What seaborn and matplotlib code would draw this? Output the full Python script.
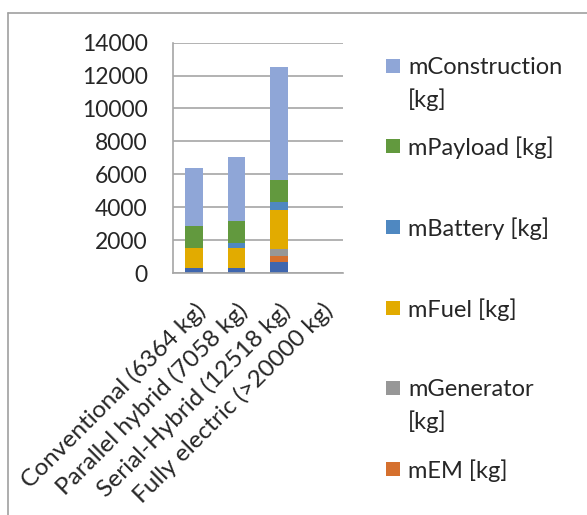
import textwrap
import numpy as np
import pandas as pd
import matplotlib.pyplot as plt
import seaborn as sns
from matplotlib.patches import Rectangle
from matplotlib.lines import Line2D

# vehicle concepts (x axis)
categories = ["Conventional (6364 kg)", "Parallel hybrid (7058 kg)",
              "Serial-Hybrid (12518 kg)", "Fully electric (>20000 kg)"]

# mass components, stacked bottom -> top
m_ice = [300, 300, 670, 0]
m_em = [0, 0, 360, 0]
m_generator = [0, 0, 400, 0]
m_fuel = [1250, 1250, 2390, 0]
m_battery = [0, 300, 500, 0]
m_payload = [1330, 1330, 1340, 0]
m_construction = [3484, 3878, 6858, 0]

series_names = ["mICE [kg]", "mEM [kg]", "mGenerator [kg]", "mFuel [kg]",
                "mBattery [kg]", "mPayload [kg]", "mConstruction [kg]"]
series_colors = ["#3F66AE", "#D5702E", "#979797", "#E2AB00",
                 "#4F88C1", "#62993E", "#8FA6D7"]

df = pd.DataFrame(dict(zip(series_names,
                           [m_ice, m_em, m_generator, m_fuel,
                            m_battery, m_payload, m_construction])),
                  index=categories)
cum = df.cumsum(axis=1)

sns.set_style("white")
plt.rcParams["font.family"] = ["Lato", "DejaVu Sans"]

fig = plt.figure(figsize=(5.87, 5.15), dpi=100)
ax = fig.add_axes([172.7 / 587, 1 - 273 / 515, (343 - 172.7) / 587, (273 - 42.7) / 515])

# stacked bars: draw cumulative totals from the top down
for name, col in zip(reversed(series_names), reversed(series_colors)):
    sns.barplot(x=categories, y=cum[name].values, color=col, saturation=1,
                width=0.41, linewidth=0, ax=ax)

grid_col = "#A6A6A6"
ax.set_ylim(0, 14000)
ax.set_yticks(np.arange(0, 14001, 2000))
ax.set_xlim(-0.5, 3.5)
ax.yaxis.grid(True, color=grid_col, linewidth=1.2)
ax.set_axisbelow(True)
for s in ["top", "right"]:
    ax.spines[s].set_visible(False)
for s in ["left", "bottom"]:
    ax.spines[s].set_color(grid_col)
    ax.spines[s].set_linewidth(1.2)

ax.tick_params(axis="y", length=6, width=1.2, color=grid_col, pad=12, labelsize=16.5)
ax.set_xticks(np.arange(-0.5, 3.6, 1), minor=True)
ax.tick_params(axis="x", which="minor", length=5, width=1.2, color=grid_col, direction="out")
ax.tick_params(axis="x", which="major", length=0, pad=19, labelsize=17.6)
ax.set_xticks(range(len(categories)))
ax.set_xticklabels(categories, rotation=45, ha="right", rotation_mode="anchor")
ax.set_xlabel("")
ax.set_ylabel("")

# legend, laid out like the original (top to bottom, reversed stack order)
legend_y = [66, 146, 227, 308, 388, 469]
for name, col, yp in zip(reversed(series_names[1:]), reversed(series_colors[1:]), legend_y):
    y = 1 - yp / 515
    fig.add_artist(Rectangle((386 / 587, y - 7 / 515), 14 / 587, 14 / 515,
                             transform=fig.transFigure, color=col, lw=0))
    for i, line in enumerate(textwrap.wrap(name, 14)):
        fig.text(408 / 587, y - i * 32 / 515, line, fontsize=17, va="center_baseline", ha="left")

# chart frame (top and left edge visible)
fig.add_artist(Line2D([8 / 587, 1], [1 - 13 / 515, 1 - 13 / 515], transform=fig.transFigure,
                      color="#A0A0A0", lw=1.2))
fig.add_artist(Line2D([8 / 587, 8 / 587], [0, 1 - 13 / 515], transform=fig.transFigure,
                      color="#A0A0A0", lw=1.2))

fig.savefig("out.png", dpi=100)
